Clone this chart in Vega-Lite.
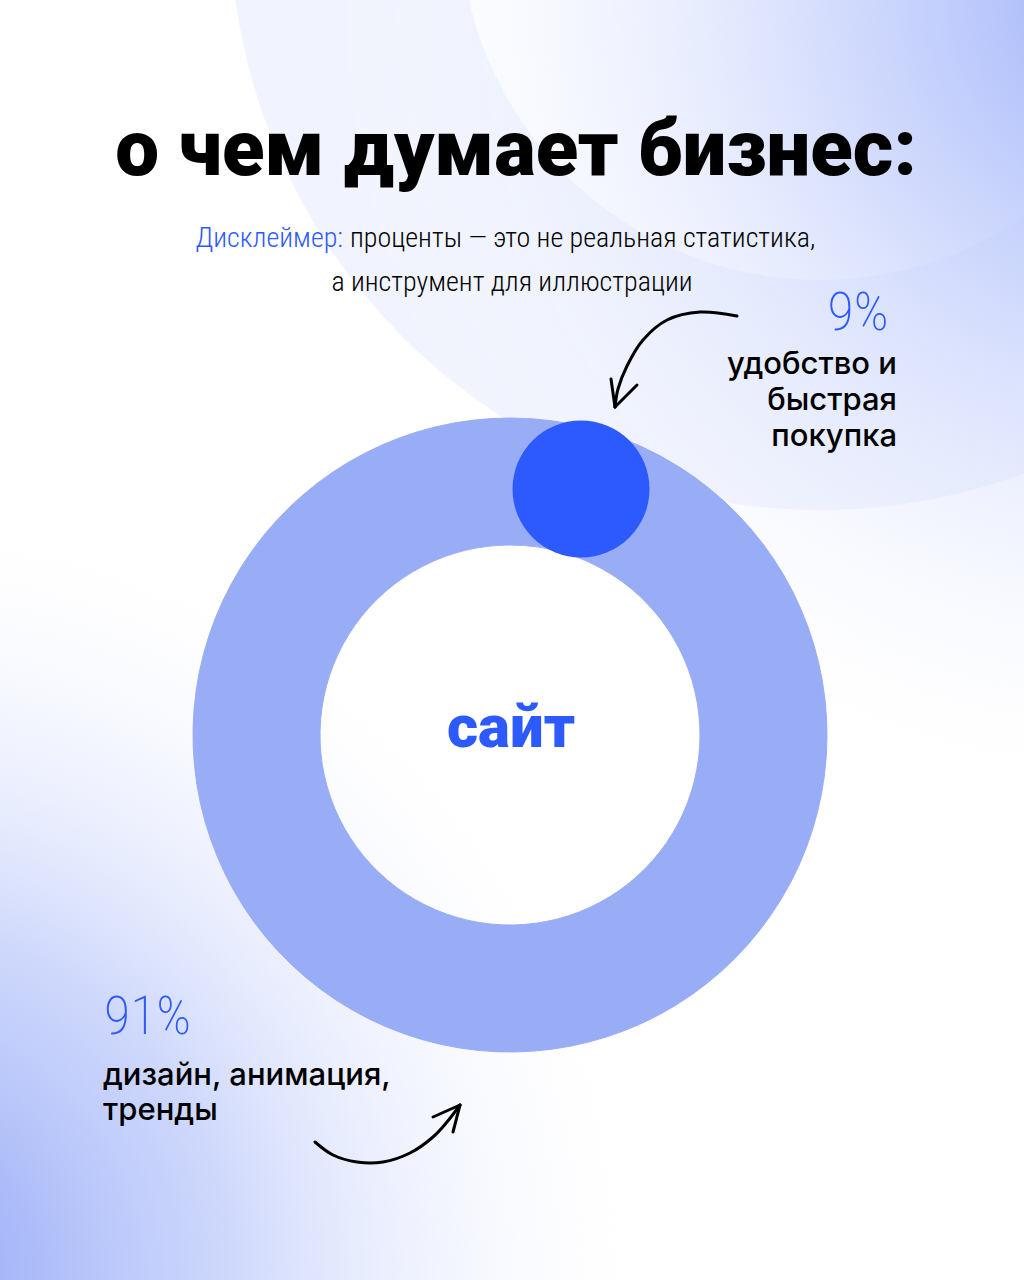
{
  "$schema": "https://vega.github.io/schema/vega-lite/v6.json",
  "width": 1024,
  "height": 1280,
  "autosize": {"type": "none"},
  "padding": 0,
  "background": "#ffffff",
  "config": {"view": {"stroke": null}},
  "data": {"values": [{"k": 1}]},
  "datasets": {
    "ring": [
      {"segment": "удобство и быстрая покупка", "share": 0.09, "order": 1},
      {"segment": "дизайн, анимация, тренды", "share": 0.91, "order": 2}
    ],
    "arrows": [
      {"seg": "a1", "i": 1, "x": 737, "y": 316},
      {"seg": "a1", "i": 2, "x": 700, "y": 312},
      {"seg": "a1", "i": 3, "x": 667, "y": 320},
      {"seg": "a1", "i": 4, "x": 643, "y": 340},
      {"seg": "a1", "i": 5, "x": 627, "y": 366},
      {"seg": "a1", "i": 6, "x": 618, "y": 389},
      {"seg": "a1", "i": 7, "x": 615, "y": 407},
      {"seg": "a1l", "i": 1, "x": 611, "y": 379},
      {"seg": "a1l", "i": 2, "x": 615, "y": 407},
      {"seg": "a1r", "i": 1, "x": 637, "y": 385},
      {"seg": "a1r", "i": 2, "x": 615, "y": 407},
      {"seg": "a2", "i": 1, "x": 315, "y": 1142},
      {"seg": "a2", "i": 2, "x": 333, "y": 1155},
      {"seg": "a2", "i": 3, "x": 357, "y": 1162},
      {"seg": "a2", "i": 4, "x": 383, "y": 1162},
      {"seg": "a2", "i": 5, "x": 410, "y": 1153},
      {"seg": "a2", "i": 6, "x": 433, "y": 1137},
      {"seg": "a2", "i": 7, "x": 447, "y": 1122},
      {"seg": "a2", "i": 8, "x": 460, "y": 1105},
      {"seg": "a2l", "i": 1, "x": 433, "y": 1117},
      {"seg": "a2l", "i": 2, "x": 460, "y": 1105},
      {"seg": "a2r", "i": 1, "x": 453, "y": 1132},
      {"seg": "a2r", "i": 2, "x": 460, "y": 1105}
    ]
  },
  "layer": [
    {
      "mark": {"type": "arc", "theta": 0, "theta2": 6.2832, "innerRadius": 360, "outerRadius": 590, "fill": "#EEF1FE", "opacity": 0.8},
      "encoding": {
        "x": {"datum": 820, "type": "quantitative", "scale": {"domain": [0, 1024], "nice": false, "zero": false}, "axis": null},
        "y": {"datum": -80, "type": "quantitative", "scale": {"domain": [1280, 0], "nice": false, "zero": false}, "axis": null}
      }
    },
    {
      "mark": {"type": "rect", "fill": {"gradient": "radial", "x1": 1, "y1": 0, "r1": 0, "x2": 1, "y2": 0, "r2": 0.65, "stops": [{"offset": 0, "color": "#98ACFA"}, {"offset": 0.4, "color": "rgba(196,208,252,0.7)"}, {"offset": 1, "color": "rgba(255,255,255,0)"}]}},
      "encoding": {}
    },
    {
      "mark": {"type": "rect", "fill": {"gradient": "radial", "x1": 0, "y1": 1, "r1": 0, "x2": 0, "y2": 1, "r2": 0.62, "stops": [{"offset": 0, "color": "#8A9FF6"}, {"offset": 0.45, "color": "rgba(180,195,250,0.65)"}, {"offset": 1, "color": "rgba(255,255,255,0)"}]}},
      "encoding": {}
    },
    {
      "data": {"name": "ring"},
      "mark": {"type": "arc", "innerRadius": 190, "outerRadius": 317, "fill": "#99ADF7", "stroke": "#99ADF7", "strokeWidth": 1},
      "encoding": {
        "theta": {"field": "share", "type": "quantitative", "stack": true},
        "order": {"field": "order", "type": "quantitative"},
        "x": {"datum": 510, "type": "quantitative", "scale": {"domain": [0, 1024], "nice": false, "zero": false}, "axis": null},
        "y": {"datum": 735, "type": "quantitative", "scale": {"domain": [1280, 0], "nice": false, "zero": false}, "axis": null}
      }
    },
    {
      "data": {"name": "ring"},
      "transform": [{"filter": "datum.order == 1"}],
      "mark": {"type": "point", "filled": true, "shape": "circle", "size": 18770, "color": "#2C5AFF", "opacity": 1},
      "encoding": {
        "x": {"datum": 581, "type": "quantitative", "scale": {"domain": [0, 1024], "nice": false, "zero": false}, "axis": null},
        "y": {"datum": 489, "type": "quantitative", "scale": {"domain": [1280, 0], "nice": false, "zero": false}, "axis": null}
      }
    },
    {
      "data": {"values": [{"text": "о чем думает бизнес:"}]},
      "mark": {"type": "text", "font": "Roboto", "fontWeight": 900, "fontSize": 78, "align": "center", "baseline": "alphabetic", "color": "#000000"},
      "encoding": {
        "text": {"field": "text"},
        "x": {"datum": 516, "type": "quantitative", "scale": {"domain": [0, 1024], "nice": false, "zero": false}, "axis": null},
        "y": {"datum": 175, "type": "quantitative", "scale": {"domain": [1280, 0], "nice": false, "zero": false}, "axis": null}
      }
    },
    {
      "data": {"values": [{"text": "Дисклеймер:"}]},
      "mark": {"type": "text", "font": "Roboto Condensed, DejaVu Sans Condensed, Roboto", "fontWeight": 300, "fontSize": 28, "align": "right", "baseline": "alphabetic", "color": "#2C5AFF"},
      "encoding": {
        "text": {"field": "text"},
        "x": {"datum": 343, "type": "quantitative", "scale": {"domain": [0, 1024], "nice": false, "zero": false}, "axis": null},
        "y": {"datum": 247, "type": "quantitative", "scale": {"domain": [1280, 0], "nice": false, "zero": false}, "axis": null}
      }
    },
    {
      "data": {"values": [{"text": "проценты — это не реальная статистика,"}]},
      "mark": {"type": "text", "font": "Roboto Condensed, DejaVu Sans Condensed, Roboto", "fontWeight": 300, "fontSize": 28, "align": "left", "baseline": "alphabetic", "color": "#000000"},
      "encoding": {
        "text": {"field": "text"},
        "x": {"datum": 350, "type": "quantitative", "scale": {"domain": [0, 1024], "nice": false, "zero": false}, "axis": null},
        "y": {"datum": 247, "type": "quantitative", "scale": {"domain": [1280, 0], "nice": false, "zero": false}, "axis": null}
      }
    },
    {
      "data": {"values": [{"text": "а инструмент для иллюстрации"}]},
      "mark": {"type": "text", "font": "Roboto Condensed, DejaVu Sans Condensed, Roboto", "fontWeight": 300, "fontSize": 28, "align": "center", "baseline": "alphabetic", "color": "#000000"},
      "encoding": {
        "text": {"field": "text"},
        "x": {"datum": 512, "type": "quantitative", "scale": {"domain": [0, 1024], "nice": false, "zero": false}, "axis": null},
        "y": {"datum": 291, "type": "quantitative", "scale": {"domain": [1280, 0], "nice": false, "zero": false}, "axis": null}
      }
    },
    {
      "data": {"name": "ring"},
      "transform": [{"filter": "datum.order == 1"}],
      "mark": {"type": "text", "font": "Roboto Condensed, DejaVu Sans Condensed, Roboto", "fontWeight": 200, "fontSize": 54, "align": "center", "baseline": "alphabetic", "color": "#2C5AFF"},
      "encoding": {
        "text": {"field": "share", "type": "quantitative", "format": ".0%"},
        "x": {"datum": 858, "type": "quantitative", "scale": {"domain": [0, 1024], "nice": false, "zero": false}, "axis": null},
        "y": {"datum": 330, "type": "quantitative", "scale": {"domain": [1280, 0], "nice": false, "zero": false}, "axis": null}
      }
    },
    {
      "data": {"values": [{"text": "удобство и\nбыстрая\nпокупка"}]},
      "mark": {"type": "text", "font": "Inter", "fontWeight": 500, "fontSize": 31, "lineBreak": "\n", "lineHeight": 36, "align": "right", "baseline": "alphabetic", "color": "#000000"},
      "encoding": {
        "text": {"field": "text"},
        "x": {"datum": 897, "type": "quantitative", "scale": {"domain": [0, 1024], "nice": false, "zero": false}, "axis": null},
        "y": {"datum": 374, "type": "quantitative", "scale": {"domain": [1280, 0], "nice": false, "zero": false}, "axis": null}
      }
    },
    {
      "data": {"name": "ring"},
      "transform": [{"filter": "datum.order == 2"}],
      "mark": {"type": "text", "font": "Roboto Condensed, DejaVu Sans Condensed, Roboto", "fontWeight": 200, "fontSize": 54, "align": "left", "baseline": "alphabetic", "color": "#2C5AFF"},
      "encoding": {
        "text": {"field": "share", "type": "quantitative", "format": ".0%"},
        "x": {"datum": 104, "type": "quantitative", "scale": {"domain": [0, 1024], "nice": false, "zero": false}, "axis": null},
        "y": {"datum": 1034, "type": "quantitative", "scale": {"domain": [1280, 0], "nice": false, "zero": false}, "axis": null}
      }
    },
    {
      "data": {"values": [{"text": "дизайн, анимация,\nтренды"}]},
      "mark": {"type": "text", "font": "Inter", "fontWeight": 500, "fontSize": 31, "lineBreak": "\n", "lineHeight": 35, "align": "left", "baseline": "alphabetic", "color": "#000000"},
      "encoding": {
        "text": {"field": "text"},
        "x": {"datum": 103, "type": "quantitative", "scale": {"domain": [0, 1024], "nice": false, "zero": false}, "axis": null},
        "y": {"datum": 1085, "type": "quantitative", "scale": {"domain": [1280, 0], "nice": false, "zero": false}, "axis": null}
      }
    },
    {
      "data": {"values": [{"text": "сайт"}]},
      "mark": {"type": "text", "font": "Roboto", "fontWeight": 900, "fontSize": 60, "align": "center", "baseline": "alphabetic", "color": "#2C5AFF"},
      "encoding": {
        "text": {"field": "text"},
        "x": {"datum": 511, "type": "quantitative", "scale": {"domain": [0, 1024], "nice": false, "zero": false}, "axis": null},
        "y": {"datum": 747, "type": "quantitative", "scale": {"domain": [1280, 0], "nice": false, "zero": false}, "axis": null}
      }
    },
    {
      "data": {"name": "arrows"},
      "mark": {"type": "line", "interpolate": "catmull-rom", "color": "#000000", "strokeWidth": 3, "strokeCap": "round", "strokeJoin": "round"},
      "encoding": {
        "x": {"field": "x", "type": "quantitative", "scale": {"domain": [0, 1024], "nice": false, "zero": false}, "axis": null},
        "y": {"field": "y", "type": "quantitative", "scale": {"domain": [1280, 0], "nice": false, "zero": false}, "axis": null},
        "detail": {"field": "seg", "type": "nominal"},
        "order": {"field": "i", "type": "quantitative"}
      }
    }
  ]
}
